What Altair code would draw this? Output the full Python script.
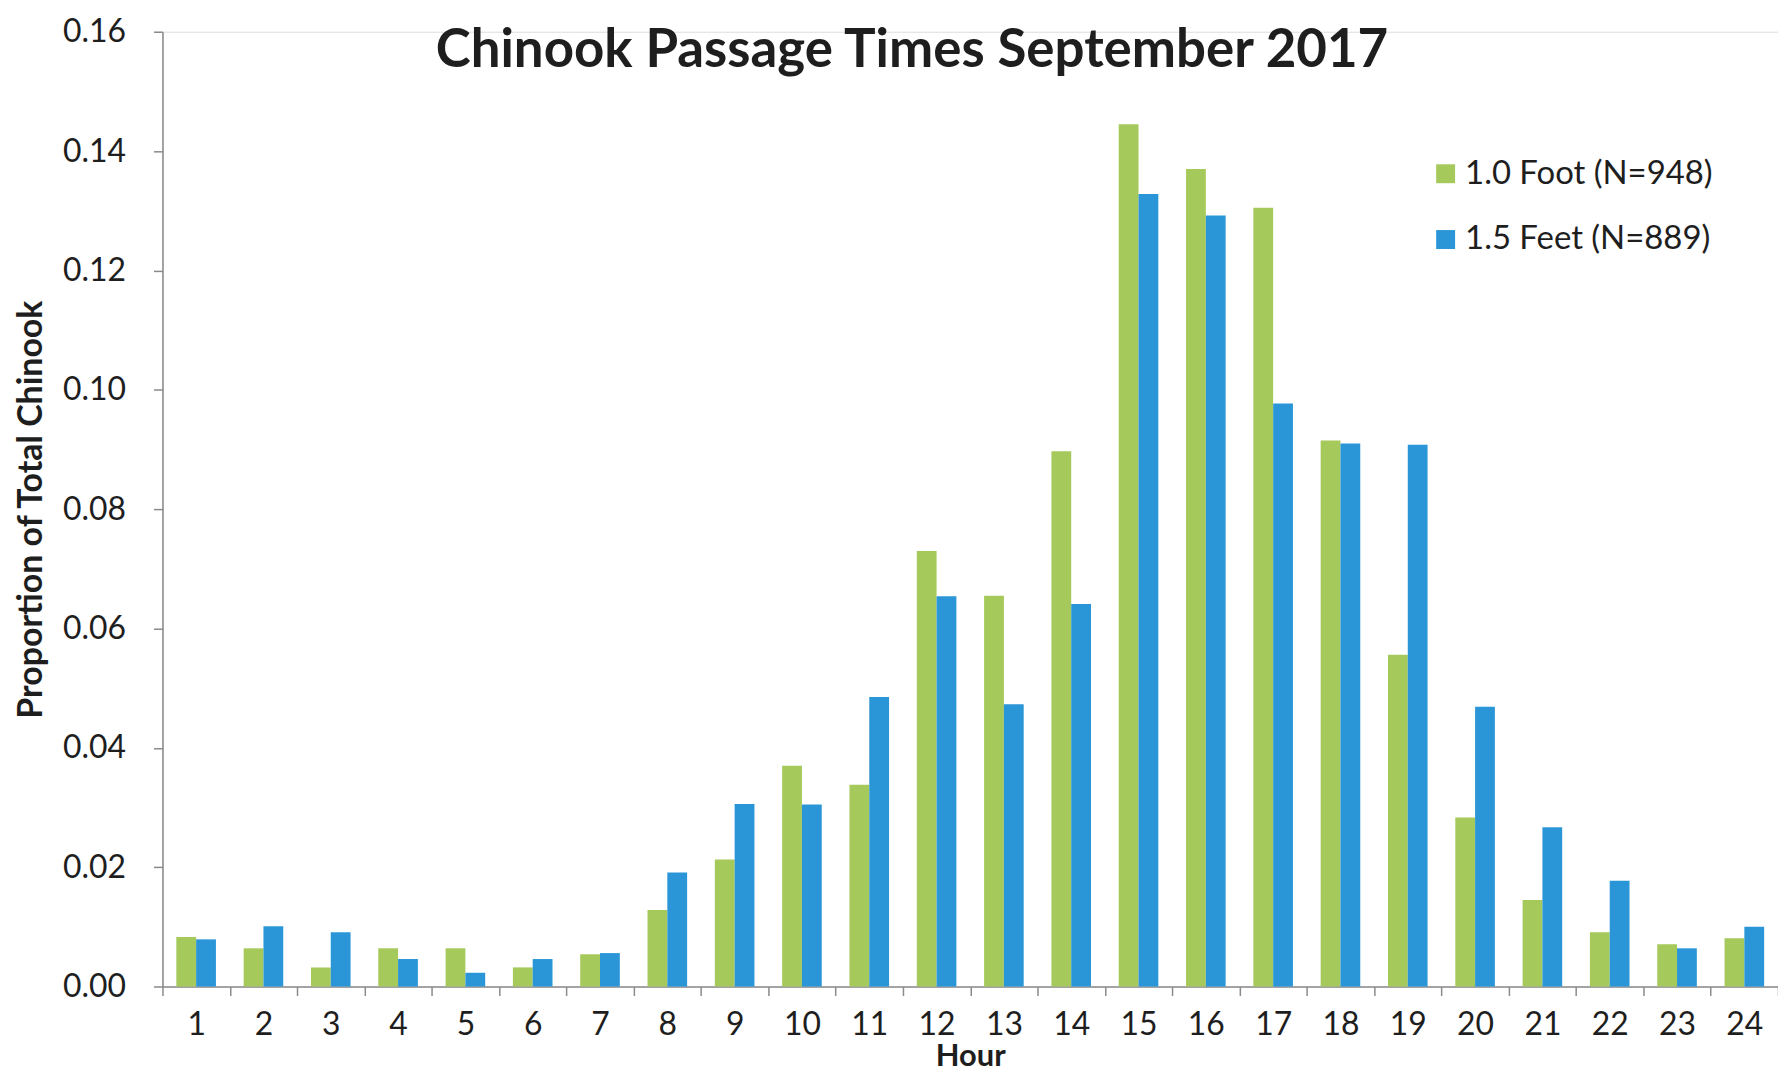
import altair as alt
import pandas as pd

hours = list(range(1, 25))
series_names = ["1.0 Foot (N=948)", "1.5 Feet (N=889)"]
foot_10 = [0.0083, 0.0064, 0.0032, 0.0064, 0.0064, 0.0032, 0.0054, 0.0128,
           0.0213, 0.0370, 0.0338, 0.0730, 0.0655, 0.0897, 0.1445, 0.1370,
           0.1305, 0.0915, 0.0556, 0.0283, 0.0145, 0.0091, 0.0071, 0.0081]
feet_15 = [0.0079, 0.0101, 0.0091, 0.0046, 0.0023, 0.0046, 0.0056, 0.0191,
           0.0306, 0.0305, 0.0485, 0.0654, 0.0473, 0.0641, 0.1328, 0.1292,
           0.0977, 0.0910, 0.0908, 0.0469, 0.0267, 0.0177, 0.0064, 0.0100]
y_ticks = [0.0, 0.02, 0.04, 0.06, 0.08, 0.10, 0.12, 0.14, 0.16]
title_text = "Chinook Passage Times September 2017"

rows = []
for h, a, b in zip(hours, foot_10, feet_15):
    rows.append({"hour": h, "series": series_names[0], "value": a})
    rows.append({"hour": h, "series": series_names[1], "value": b})
df = pd.DataFrame(rows)

FONT = "Lato"
GREEN = "#A6C95B"
BLUE = "#2B96D7"
AXIS_GREY = "#8a8a8a"
TEXT = "#1e1e1e"

bars = alt.Chart(df).mark_bar().encode(
    x=alt.X("hour:O",
            scale=alt.Scale(paddingInner=0, paddingOuter=0),
            axis=alt.Axis(title="Hour", labelAngle=0, tickBand="extent",
                          labelFont=FONT, labelFontSize=32, labelColor=TEXT,
                          labelPadding=14, tickSize=9, tickColor=AXIS_GREY,
                          tickWidth=1.5, domainColor=AXIS_GREY, domainWidth=1.5,
                          titleFont=FONT, titleFontSize=31, titleFontWeight="bold",
                          titleColor=TEXT, titlePadding=1)),
    xOffset=alt.XOffset("series:N", sort=series_names,
                        scale=alt.Scale(paddingInner=0, paddingOuter=0.7)),
    y=alt.Y("value:Q",
            scale=alt.Scale(domain=[0, 0.16], nice=False),
            axis=alt.Axis(values=y_ticks, format=".2f", grid=False,
                          title="Proportion of Total Chinook",
                          labelFont=FONT, labelFontSize=32, labelColor=TEXT,
                          labelPadding=28, tickSize=9, tickColor=AXIS_GREY,
                          tickWidth=1.5, domainColor=AXIS_GREY, domainWidth=1.5,
                          titleFont=FONT, titleFontSize=34, titleFontWeight="bold",
                          titleColor=TEXT, titleX=-131, titleY=479,
                          titleAngle=270, titleAlign="center",
                          titleBaseline="middle")),
    color=alt.Color("series:N",
                    scale=alt.Scale(domain=series_names, range=[GREEN, BLUE]),
                    legend=alt.Legend(title=None, orient="none",
                                      legendX=1271, legendY=126,
                                      symbolType="square", symbolSize=360,
                                      symbolStrokeWidth=0,
                                      labelFont=FONT, labelFontSize=33,
                                      labelColor=TEXT, labelOffset=3,
                                      rowPadding=32, labelLimit=400)),
)

title = alt.Chart(pd.DataFrame({"t": [title_text]})).mark_text(
    font=FONT, fontSize=53, fontWeight="bold", color=TEXT,
    align="center", baseline="alphabetic"
).encode(text="t:N", x=alt.value(752), y=alt.value(35))

chart = alt.layer(bars, title).properties(
    width=1621, height=958,
    autosize=alt.AutoSizeParams(type="none"),
    padding={"left": 155, "top": 22, "right": 0, "bottom": 88},
).configure_view(stroke=None).configure(background="white")

chart.save("out.html", embed_options={"renderer": "svg", "actions": False})
